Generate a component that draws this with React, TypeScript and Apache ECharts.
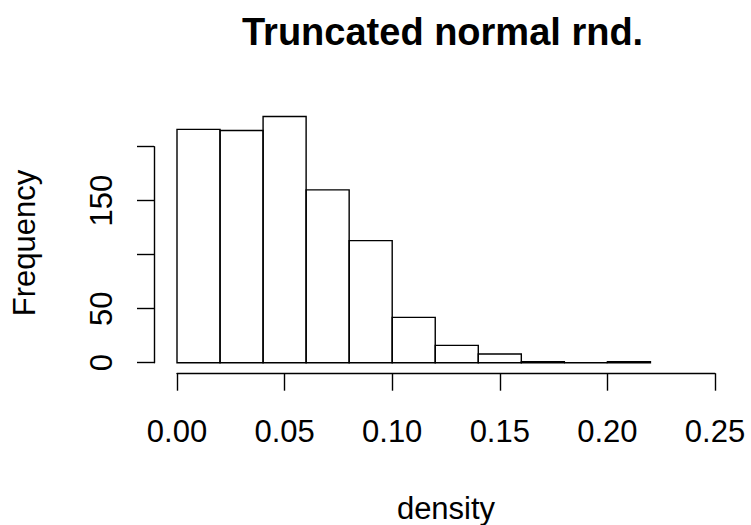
import React, { useEffect, useRef } from "react";
import * as echarts from "echarts";

// Histogram data
const breaks = [0, 0.02, 0.04, 0.06, 0.08, 0.1, 0.12, 0.14, 0.16, 0.18, 0.2, 0.22];
const counts = [216, 215, 228, 160, 113, 42, 16, 8, 1, 0, 1];
const xTicks = [0, 0.05, 0.1, 0.15, 0.2, 0.25];
const yTicks = [0, 50, 100, 150, 200];
const yTicksLabelled = [0, 50, 150];
const titleText = "Truncated normal rnd.";
const xLabel = "density";
const yLabel = "Frequency";

const FONT = "'Liberation Sans', Arial, Helvetica, sans-serif";
const LW = 1.4;

export default function App() {
  const ref = useRef<HTMLDivElement>(null);

  useEffect(() => {
    if (!ref.current) return;
    const chart = echarts.init(ref.current, undefined, { renderer: "svg" });
    const data = counts.map((c, i) => [breaks[i], breaks[i + 1], c]);

    chart.setOption({
      animation: false,
      backgroundColor: "#ffffff",
      title: {
        text: titleText,
        left: 242,
        top: 13,
        padding: 0,
        textStyle: { fontSize: 38, fontWeight: "bold", fontFamily: FONT, color: "#000" },
      },
      grid: {
        left: 177,
        right: 36,
        top: 146.7,
        bottom: 162.3,
        containLabel: false,
        outerBoundsMode: "none",
      },
      xAxis: {
        type: "value",
        min: xTicks[0],
        max: xTicks[xTicks.length - 1],
        interval: 0.05,
        offset: 10.6,
        name: xLabel,
        nameLocation: "middle",
        nameGap: 120,
        nameTextStyle: { fontSize: 31, fontFamily: FONT, color: "#000" },
        axisLine: { show: true, onZero: false, lineStyle: { color: "#000", width: LW } },
        axisTick: { show: true, length: 17.4, inside: false, lineStyle: { color: "#000", width: LW } },
        axisLabel: {
          margin: 43,
          fontSize: 31,
          fontFamily: FONT,
          color: "#000",
          formatter: (v: number) => v.toFixed(2),
        },
        splitLine: { show: false },
      },
      yAxis: {
        type: "value",
        min: yTicks[0],
        max: yTicks[yTicks.length - 1],
        interval: 50,
        offset: 23,
        axisLine: { show: true, onZero: false, lineStyle: { color: "#000", width: LW } },
        axisTick: { show: true, length: 17, inside: false, lineStyle: { color: "#000", width: LW } },
        axisLabel: {
          rotate: 90,
          margin: 37.5,
          fontSize: 31,
          fontFamily: FONT,
          color: "#000",
          formatter: (v: number) => (yTicksLabelled.indexOf(v) >= 0 ? String(v) : ""),
        },
        splitLine: { show: false },
      },
      graphic: [
        {
          type: "text",
          x: 24.3,
          y: 243,
          rotation: Math.PI / 2,
          style: {
            text: yLabel,
            fontSize: 31,
            fontFamily: FONT,
            fill: "#000",
            align: "center",
            verticalAlign: "middle",
          },
        },
      ],
      series: [
        {
          type: "custom",
          clip: false,
          data,
          encode: { x: [0, 1], y: 2 },
          renderItem: (params: any, api: any) => {
            const x0 = api.value(0);
            const x1 = api.value(1);
            const c = api.value(2);
            const p0 = api.coord([x0, 0]);
            const p1 = api.coord([x1, c]);
            return {
              type: "rect",
              shape: { x: p0[0], y: p1[1], width: p1[0] - p0[0], height: p0[1] - p1[1] },
              style: { fill: "transparent", stroke: "#000", lineWidth: LW },
            };
          },
        },
      ],
    });

    return () => chart.dispose();
  }, []);

  return (
    <div
      ref={ref}
      style={{ position: "absolute", left: 0, top: 0, width: 751, height: 525, background: "#fff" }}
    />
  );
}
